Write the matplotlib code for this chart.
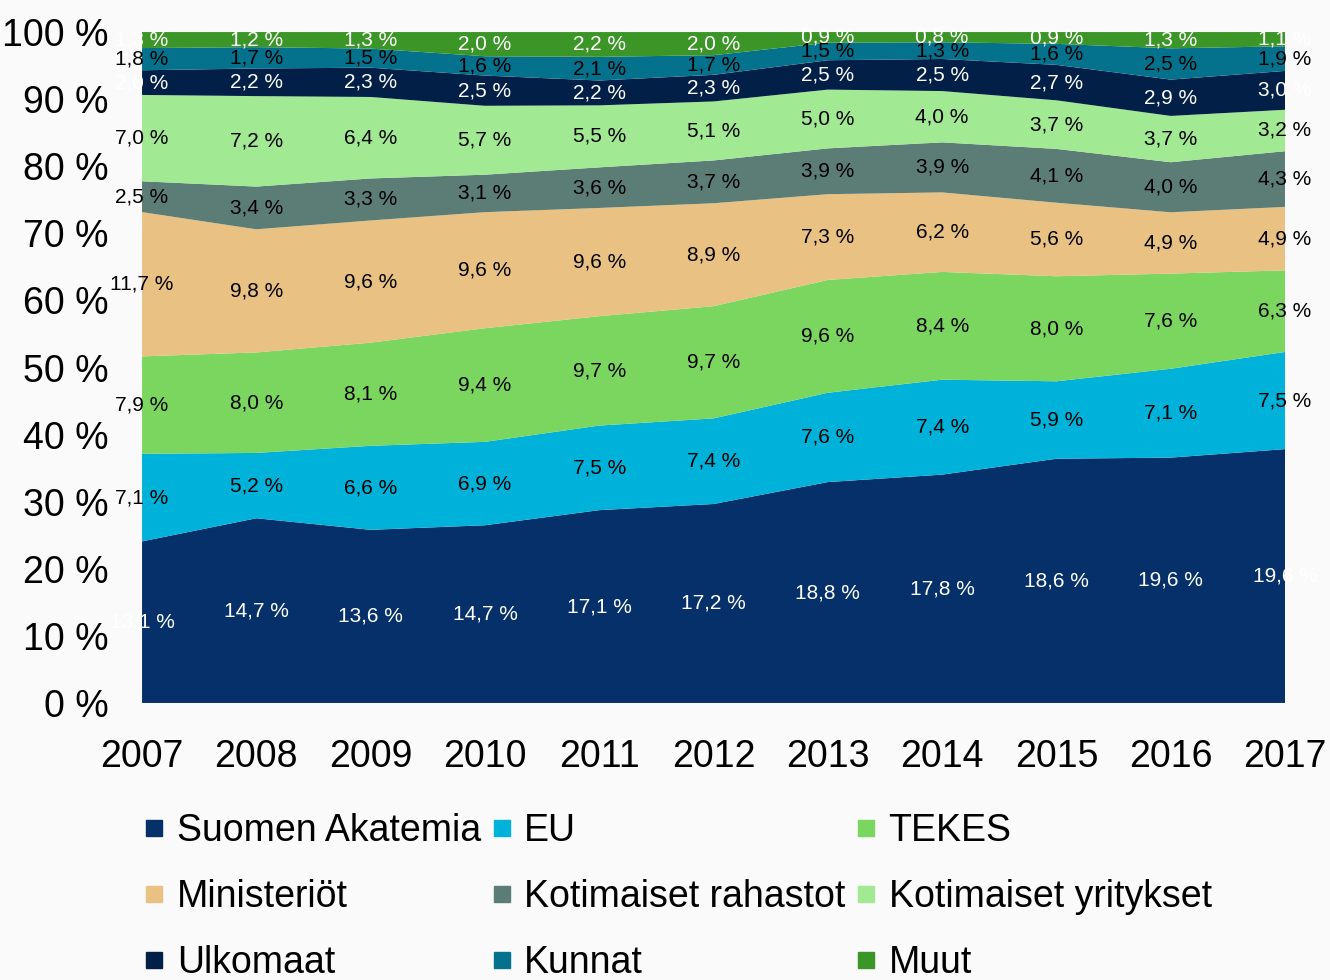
import numpy as np
import matplotlib.pyplot as plt
from matplotlib.lines import Line2D

# data (values as printed in the chart labels)
years = [2007, 2008, 2009, 2010, 2011, 2012, 2013, 2014, 2015, 2016, 2017]
sources = ['Suomen Akatemia', 'EU', 'TEKES', 'Ministeriöt', 'Kotimaiset rahastot',
           'Kotimaiset yritykset', 'Ulkomaat', 'Kunnat', 'Muut']
suomen_akatemia = [13.1, 14.7, 13.6, 14.7, 17.1, 17.2, 18.8, 17.8, 18.6, 19.6, 19.6]
eu = [7.1, 5.2, 6.6, 6.9, 7.5, 7.4, 7.6, 7.4, 5.9, 7.1, 7.5]
tekes = [7.9, 8.0, 8.1, 9.4, 9.7, 9.7, 9.6, 8.4, 8.0, 7.6, 6.3]
ministeriot = [11.7, 9.8, 9.6, 9.6, 9.6, 8.9, 7.3, 6.2, 5.6, 4.9, 4.9]
kot_rahastot = [2.5, 3.4, 3.3, 3.1, 3.6, 3.7, 3.9, 3.9, 4.1, 4.0, 4.3]
kot_yritykset = [7.0, 7.2, 6.4, 5.7, 5.5, 5.1, 5.0, 4.0, 3.7, 3.7, 3.2]
ulkomaat = [2.0, 2.2, 2.3, 2.5, 2.2, 2.3, 2.5, 2.5, 2.7, 2.9, 3.0]
kunnat = [1.8, 1.7, 1.5, 1.6, 2.1, 1.7, 1.5, 1.3, 1.6, 2.5, 1.9]
muut = [1.3, 1.2, 1.3, 2.0, 2.2, 2.0, 0.9, 0.8, 0.9, 1.3, 1.1]

colors = ['#06306a', '#00b2d9', '#7ad65f', '#e8c183', '#5b7d75',
          '#a1e992', '#021f47', '#04728c', '#3c9627']
label_colors = ['white', 'black', 'black', 'black', 'black',
                'black', 'white', 'black', 'white']

plt.rcParams['font.family'] = ['Liberation Sans', 'DejaVu Sans']

vals = np.array([suomen_akatemia, eu, tekes, ministeriot, kot_rahastot,
                 kot_yritykset, ulkomaat, kunnat, muut])
shares = vals / vals.sum(axis=0) * 100

bg = '#fafafa'
fig = plt.figure(figsize=(13.3, 9.8), dpi=100, facecolor=bg)
ax = fig.add_axes([0.1068, 0.2827, 0.8594, 0.6846])
ax.set_facecolor(bg)
ax.stackplot(years, shares, colors=colors, linewidth=0)

# value labels in the middle of each band
bottom = np.zeros(len(years))
for i in range(len(sources)):
    for j, yr in enumerate(years):
        y = bottom[j] + shares[i, j] / 2
        txt = f"{vals[i, j]:.1f} %".replace('.', ',')
        ax.text(yr, y, txt, ha='center', va='center', fontsize=15,
                color=label_colors[i], clip_on=False)
    bottom += shares[i]

ax.set_xlim(2007, 2017)
ax.set_ylim(0, 100)
ax.set_xticks(years)
ax.set_xticklabels([str(y) for y in years], fontsize=27)
ax.set_yticks(range(0, 101, 10))
ax.set_yticklabels([f"{v} %" for v in range(0, 101, 10)], fontsize=27)
ax.tick_params(length=0)
ax.tick_params(axis='x', pad=26)
ax.tick_params(axis='y', pad=24)
for s in ax.spines.values():
    s.set_visible(False)

# legend laid out row-wise: reorder for column-wise filling
order = [0, 3, 6, 1, 4, 7, 2, 5, 8]
handles = [Line2D([], [], marker='s', linestyle='', color=colors[k], markersize=11)
           for k in order]
labels = [sources[k] for k in order]
fig.legend(handles, labels, loc='upper left', bbox_to_anchor=(0.109, 0.17),
           ncol=3, frameon=False, fontsize=27, handlelength=0.5,
           handletextpad=0.35, columnspacing=0.3, labelspacing=0.8,
           borderaxespad=0, borderpad=0)

fig.savefig('out.png', dpi=100, facecolor=bg)
